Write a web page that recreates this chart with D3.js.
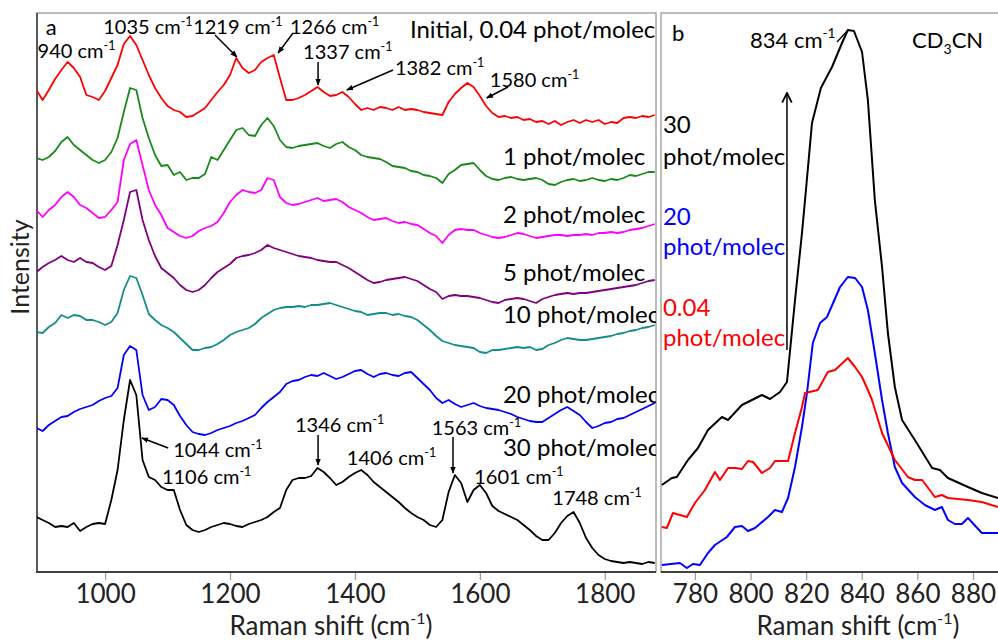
<!DOCTYPE html>
<html><head><meta charset="utf-8">
<script src="https://cdn.jsdelivr.net/npm/d3@7"></script>
<style>body{margin:0;background:#fff;} svg{display:block;font-family:Lato,"Open Sans",sans-serif;}</style>
</head><body><svg id="c" width="998" height="640"></svg>
<script>
// ---------- DATA ----------
const shift = [890,900,910,920,930,940,950,960,970,980,990,1000,1010,1020,1030,1040,1050,1060,1070,1080,1090,1100,1110,1120,1130,1140,1150,1160,1170,1180,1190,1200,1210,1220,1230,1240,1250,1260,1270,1280,1290,1300,1310,1320,1330,1340,1350,1360,1370,1380,1390,1400,1410,1420,1430,1440,1450,1460,1470,1480,1490,1500,1510,1520,1530,1540,1550,1560,1570,1580,1590,1600,1610,1620,1630,1640,1650,1660,1670,1680,1690,1700,1710,1720,1730,1740,1750,1760,1770,1780,1790,1800,1810,1820,1830,1840,1850,1860,1870,1880];

const initial004 = [482,472,482,493,502,510,504,495,477,475,472,481,494,507,528,536,527,512,497,484,474,466,462,460,455,456,460,464,472,480,487,497,514,504,499,502,510,514,517,494,472,472,474,477,481,485,480,476,477,480,475,468,462,464,462,465,464,462,465,462,463,462,460,459,458,457,470,478,484,489,485,476,466,459,455,456,454,455,452,453,450,451,448,451,447,450,452,449,452,450,452,448,450,449,454,455,454,456,455,457];
const phot1 = [414,412,415,421,430,435,427,422,417,412,409,412,420,434,460,484,482,454,434,417,406,407,397,400,392,394,394,398,415,412,422,432,442,444,437,436,447,454,446,432,425,424,426,427,428,429,426,424,428,430,425,422,417,415,414,413,410,406,405,404,401,400,397,396,394,389,398,402,407,408,409,402,396,393,392,394,395,393,392,393,394,392,388,387,390,392,393,391,392,394,392,391,393,392,394,397,396,398,400,400];
const phot2 = [362,355,362,367,375,380,375,367,364,359,354,355,362,370,412,428,432,407,382,367,357,344,340,336,334,336,341,344,346,350,359,370,377,382,380,379,382,394,392,375,369,367,368,370,372,374,371,372,373,370,365,362,359,355,352,353,354,351,349,350,348,347,343,339,336,329,337,342,343,342,342,339,337,335,334,335,337,339,338,336,334,335,336,337,337,336,337,337,338,337,339,339,340,339,340,342,343,344,346,348];
const phot5 = [300,305,309,312,316,312,310,314,310,309,305,302,306,327,352,380,382,352,332,316,304,299,294,287,282,280,282,287,294,300,304,308,314,316,317,319,322,327,324,322,320,318,316,315,314,312,311,310,310,307,304,300,296,292,289,290,292,293,294,295,293,291,287,283,280,273,276,277,276,276,275,274,272,270,269,272,273,274,273,271,269,273,275,277,278,279,278,279,279,280,281,282,283,284,285,286,287,289,291,292];
const phot10 = [240,239,245,249,257,254,257,256,252,252,250,247,250,259,282,296,294,277,258,252,247,244,240,234,228,222,222,224,225,228,232,237,240,242,244,248,254,258,262,264,265,265,266,265,267,267,268,269,267,265,263,261,260,257,258,259,259,257,258,256,255,252,247,242,236,231,229,227,226,225,224,220,219,222,222,223,224,225,224,225,222,223,227,229,232,234,233,232,232,233,234,235,236,238,239,241,242,244,245,247];
const phot20 = [144,141,147,151,155,156,160,163,165,167,171,174,176,184,217,226,222,177,162,165,173,172,167,156,147,140,138,137,139,142,144,146,149,151,154,157,164,170,175,180,188,191,192,195,197,196,199,196,193,195,198,201,202,198,195,198,199,197,196,199,200,194,188,182,174,169,172,168,165,167,169,166,164,163,162,160,158,155,153,151,150,150,154,158,162,165,161,157,150,144,146,149,150,153,154,157,160,163,166,169];
const phot30 = [55,52,49,45,46,45,49,41,45,48,49,48,72,102,152,192,177,112,95,92,85,82,82,62,47,42,40,42,45,47,49,48,46,45,48,50,52,55,60,64,82,92,94,94,96,104,100,94,87,90,95,99,102,97,90,85,80,75,70,64,59,55,52,47,45,52,80,97,89,70,82,87,79,66,61,58,55,52,47,42,36,32,32,39,49,56,60,49,34,24,17,13,11,10,9,10,9,8,10,9];

const seriesA = [initial004, phot1, phot2, phot5, phot10, phot20, phot30];
const seriesALabels = ["Initial, 0.04 phot/molec","1 phot/molec","2 phot/molec","5 phot/molec","10 phot/molec","20 phot/molec","30 phot/molec"];
const seriesAColors = ["#ff0000","#178a17","#ff00ff","#800080","#138c8c","#0000ff","#000000"];

// panel b (CD3CN band)
const b30Shift = [768.1,771.7,773.5,777.5,781.1,784.7,789.7,791.9,796.9,800.5,804.1,807.0,810.6,813.1,816.0,818.5,819.6,822.1,825.3,829.3,832.9,835.0,837.2,840.1,842.2,844.7,847.3,849.4,851.9,854.5,859.1,865.3,868.1,871.0,878.2,883.2,889.0];
const b30Int   = [87,94,95,112,124,142,155,152,167,172,177,173,180,190,272,339,372,449,484,505,529,542,541,520,472,372,305,239,185,152,132,104,102,94,85,79,74];
const b20Shift = [768.1,774.6,777.1,779.3,781.8,784.7,787.2,791.5,794.4,796.9,799.1,801.6,806.3,808.8,811.3,813.5,816.0,818.5,820.3,822.4,825.0,827.5,832.2,835.0,837.6,840.1,842.2,844.7,847.3,849.4,851.9,854.5,859.1,862.7,866.3,868.8,871.0,873.5,876.0,878.2,883.2,889.0];
const b20Int   = [7,9,4,8,7,19,27,35,45,46,41,44,55,62,60,74,105,145,179,229,249,255,285,295,294,285,262,219,172,139,105,89,75,67,62,65,52,48,48,54,39,39];
const b004Shift = [768.1,769.9,772.1,777.1,780.0,783.6,787.2,789.0,791.9,794.4,796.9,799.1,800.9,804.1,807.0,808.8,813.5,816.0,818.5,819.6,824.2,827.8,830.4,835.0,837.6,840.1,842.2,843.7,847.3,851.9,856.6,859.1,861.7,863.9,866.3,868.8,871.0,878.2,883.2,889.0];
const b004Int   = [45,44,59,55,69,82,100,92,104,104,103,111,110,99,104,111,111,139,165,179,182,200,202,214,205,195,182,172,139,112,95,92,92,84,75,77,74,72,70,65];

const ticksA = [1000,1200,1400,1600,1800];
const ticksB = [780,800,820,840,860,880];

// ---------- LAYOUT ----------
const svg = d3.select("#c");
const FONT = "Lato,'Open Sans',sans-serif";
const aL=37,aR=656,aT=13,aB=572;
const bL=661,bR=998;
const xA = d3.scaleLinear().domain([891,1882]).range([aL,aR]);
const yA = d3.scaleLinear().domain([0,559]).range([aB,aT]);
const xB = d3.scaleLinear().domain([767.8,889.0]).range([bL,bR]);
const yB = d3.scaleLinear().domain([0,559]).range([aB,aT]);

svg.append("rect").attr("width",998).attr("height",640).attr("fill","#fff");
const defs = svg.append("defs");
defs.append("clipPath").attr("id","clipA").append("rect").attr("x",aL).attr("y",aT).attr("width",aR-aL).attr("height",aB-aT);
defs.append("clipPath").attr("id","clipB").append("rect").attr("x",bL).attr("y",aT).attr("width",bR-bL+2).attr("height",aB-aT);
defs.append("marker").attr("id","ah").attr("viewBox","0 0 10 10").attr("refX",9).attr("refY",5)
  .attr("markerWidth",7).attr("markerHeight",7).attr("markerUnits","userSpaceOnUse").attr("orient","auto")
  .append("path").attr("d","M0,1 L10,5 L0,9 Z").attr("fill","#000");
defs.append("marker").attr("id","ahOpen").attr("viewBox","0 0 10 10").attr("refX",9).attr("refY",5)
  .attr("markerWidth",12).attr("markerHeight",12).attr("markerUnits","userSpaceOnUse").attr("orient","auto")
  .append("path").attr("d","M1,1 L9,5 L1,9").attr("fill","none").attr("stroke","#000").attr("stroke-width",1.5);

// frames
svg.append("rect").attr("x",aL).attr("y",aT).attr("width",aR-aL).attr("height",aB-aT).attr("fill","none").attr("stroke","#a6a6a6").attr("stroke-width",1.5);
svg.append("rect").attr("x",bL).attr("y",aT).attr("width",bR-bL+10).attr("height",aB-aT).attr("fill","none").attr("stroke","#a6a6a6").attr("stroke-width",1.5);
svg.append("line").attr("x1",aL).attr("x2",aL).attr("y1",aT).attr("y2",aB).attr("stroke","#595959").attr("stroke-width",2);

// superscript text helper
function supText(g, x, yc, main, sup, fs, color, after) {
  const t = g.append("text").attr("x",x).attr("y",yc + 0.35*fs).attr("font-size",fs).attr("fill",color||"#000");
  t.append("tspan").text(main);
  if (sup) t.append("tspan").attr("font-size",fs*0.62).attr("dy",-fs*0.42).text(sup);
  if (after) t.append("tspan").attr("font-size",fs).attr("dy",fs*0.42).text(after);
  return t;
}

// ---------- PANEL A ----------
const gA = svg.append("g").attr("clip-path","url(#clipA)");
const lineA = d3.line().x((d,i)=>xA(shift[i])).y(d=>yA(d)).curve(d3.curveLinear);
seriesA.forEach((s,k)=>{
  gA.append("path").datum(s).attr("d",lineA).attr("fill","none").attr("stroke",seriesAColors[k]).attr("stroke-width",1.8).attr("stroke-linejoin","round");
});

const fsAnn = 20, fsLab = 24;
// peak annotations: [shift, intensity, label]
const annA = [
  [997,545,"1035 cm"],[1141,545,"1219 cm"],[1296,545,"1266 cm"],[892,521,"940 cm"],
  [1317,520,"1337 cm"],[1464,504,"1382 cm"],[1616,492,"1580 cm"],
  [1109,122,"1044 cm"],[1091,95,"1106 cm"],[1304,147,"1346 cm"],[1387,114,"1406 cm"],
  [1523,144,"1563 cm"],[1591,95,"1601 cm"],[1716,74,"1748 cm"]
];
annA.forEach(a=>supText(gA, xA(a[0]), yA(a[1]), a[2], "-1", fsAnn));
// arrows: [fromShift, fromInt, toShift, toInt]
const arrA = [
  [1176,537,1211,515],[1301,539,1277,519],[1341,510,1341,487],[1461,502,1387,482],[1645,485,1611,474],
  [1101,124,1059,134],[1341,137,1341,107],[1557,135,1557,99]
];
arrA.forEach(a=>gA.append("line").attr("x1",xA(a[0])).attr("y1",yA(a[1])).attr("x2",xA(a[2])).attr("y2",yA(a[3]))
  .attr("stroke","#000").attr("stroke-width",1.5).attr("marker-end","url(#ah)"));

// series labels: [shift, intensity]
const labPos = [[1488,542],[1637,415],[1637,357],[1637,299],[1637,257],[1637,177],[1637,124]];
labPos.forEach((p,k)=>supText(gA, xA(p[0]), yA(p[1]), seriesALabels[k], null, fsLab));
supText(gA, xA(905), yA(545), "a", null, 22);

// axis A
const axA = svg.append("g").attr("transform",`translate(0,${aB})`)
  .call(d3.axisBottom(xA).tickValues(ticksA).tickSize(8).tickSizeOuter(0).tickPadding(5).tickFormat(d3.format("d")));
axA.select(".domain").remove();
axA.selectAll(".tick line").attr("stroke","#9a9a9a").attr("stroke-width",1.2);
axA.selectAll(".tick text").attr("font-size",26).attr("font-family",FONT).attr("fill","#222");
svg.append("line").attr("x1",aL-1).attr("x2",aR).attr("y1",aB).attr("y2",aB).attr("stroke","#404040").attr("stroke-width",2);

function axisTitle(cx) {
  const t = svg.append("text").attr("x",cx).attr("y",635).attr("text-anchor","middle").attr("font-size",26).attr("fill","#222");
  t.append("tspan").text("Raman shift (cm");
  t.append("tspan").attr("font-size",16).attr("dy",-11).text("-1");
  t.append("tspan").attr("dy",11).text(")");
}
axisTitle(331);

svg.append("text").attr("transform","translate(29,267) rotate(-90)").attr("text-anchor","middle").attr("font-size",25).attr("fill","#222").text("Intensity");

// ---------- PANEL B ----------
const gB = svg.append("g").attr("clip-path","url(#clipB)");
const bSeries = [[b30Shift,b30Int,"#000000"],[b20Shift,b20Int,"#0000ff"],[b004Shift,b004Int,"#ff0000"]];
bSeries.forEach(s=>{
  const ln = d3.line().x((d,i)=>xB(s[0][i])).y(d=>yB(d));
  gB.append("path").datum(s[1]).attr("d",ln).attr("fill","none").attr("stroke",s[2]).attr("stroke-width",2).attr("stroke-linejoin","round");
});
supText(gB, xB(771.8), yB(539), "b", null, 22);
supText(gB, xB(799.8), yB(532), "834 cm", "-1", 22);
const cd = gB.append("text").attr("x",xB(858.1)).attr("y",yB(532)+0.35*22).attr("font-size",22).attr("fill","#000");
cd.append("tspan").text("CD");
cd.append("tspan").attr("font-size",14).attr("dy",6).text("3");
cd.append("tspan").attr("dy",-6).text("CN");
gB.append("line").attr("x1",xB(831.1)).attr("y1",yB(530)).attr("x2",xB(835.1)).attr("y2",yB(542)).attr("stroke","#000").attr("stroke-width",1.3);
gB.append("line").attr("x1",xB(813.1)).attr("y1",yB(222)).attr("x2",xB(813.1)).attr("y2",yB(479)).attr("stroke","#000").attr("stroke-width",1.5).attr("marker-end","url(#ahOpen)");
const legB = [["30",447,415,"#000"],["20",355,325,"#0000ff"],["0.04",264,234,"#ff0000"]];
legB.forEach(l=>{
  supText(gB, xB(768.5), yB(l[1]), l[0], null, fsLab, l[3]);
  supText(gB, xB(768.5), yB(l[2]), "phot/molec", null, fsLab, l[3]);
});

const axB = svg.append("g").attr("transform",`translate(0,${aB})`)
  .call(d3.axisBottom(xB).tickValues(ticksB).tickSize(8).tickSizeOuter(0).tickPadding(5).tickFormat(d3.format("d")));
axB.select(".domain").remove();
axB.selectAll(".tick line").attr("stroke","#9a9a9a").attr("stroke-width",1.2);
axB.selectAll(".tick text").attr("font-size",26).attr("font-family",FONT).attr("fill","#222");
svg.append("line").attr("x1",bL).attr("x2",bR).attr("y1",aB).attr("y2",aB).attr("stroke","#404040").attr("stroke-width",2);
axisTitle(858);
</script></body></html>
